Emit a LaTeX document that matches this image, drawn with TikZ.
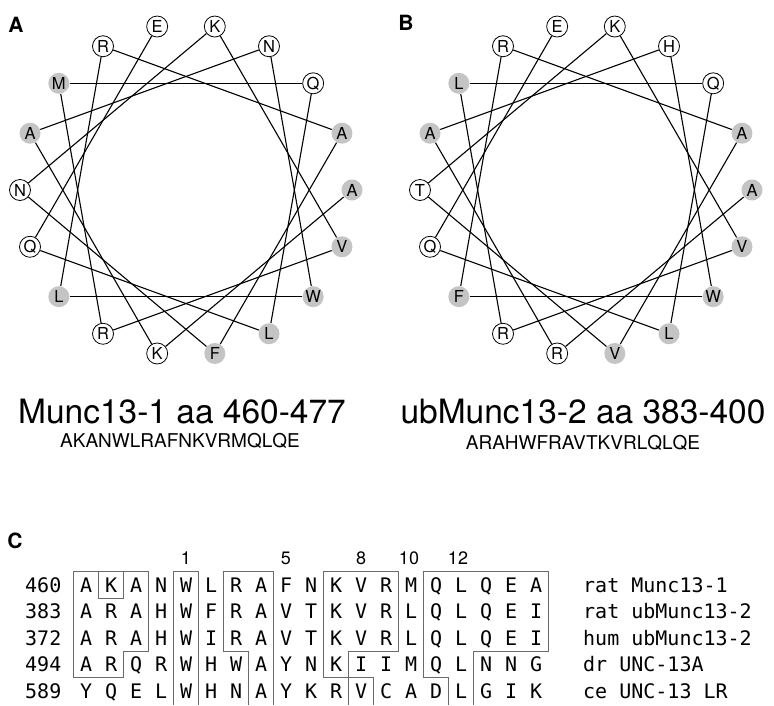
\documentclass[tikz,border=0pt]{standalone}
\usepackage{fontspec}
\setmainfont{TeX Gyre Heros}
\newfontfamily\alnfont{DejaVu Sans Mono}
\usepackage{xcolor}
\usepackage{tikz}
\definecolor{WheelGray}{HTML}{C4C4C4}
\definecolor{BoxLine}{HTML}{6A6A6A}
\newcommand{\rc}[1]{\makebox[25pt]{#1}}

\begin{document}
\begin{tikzpicture}[x=1pt,y=1pt,
  res/.style={circle,draw,line width=0.8pt,inner sep=0pt,minimum size=21pt,font=\fontsize{16.5}{16.5}\selectfont},
  hyd/.style={res,draw=none,fill=WheelGray},
  helix/.style={line width=1.1pt},
  panel/.style={inner sep=0pt,font=\bfseries\fontsize{21}{21}\selectfont},
  alnrow/.style={anchor=base west,inner sep=0pt,font=\alnfont\fontsize{20}{20}\selectfont},
  box/.style={BoxLine,line width=0.9pt}]
\path[use as bounding box,fill=white] (0,0) rectangle (774,-705);
% panel A
\node[panel] (pa) at (16,-24.5) {A};
\begin{scope}[shift={(186,-190)}]
\node[hyd] (a1) at (0:166) {A};
\node[res] (a2) at (260:166) {K};
\node[hyd] (a3) at (160:166) {A};
\node[res] (a4) at (60:166) {N};
\node[hyd] (a5) at (320:166) {W};
\node[hyd] (a6) at (220:166) {L};
\node[res] (a7) at (120:166) {R};
\node[hyd] (a8) at (20:166) {A};
\node[hyd] (a9) at (280:166) {F};
\node[res] (a10) at (180:166) {N};
\node[res] (a11) at (80:166) {K};
\node[hyd] (a12) at (340:166) {V};
\node[res] (a13) at (240:166) {R};
\node[hyd] (a14) at (140:166) {M};
\node[res] (a15) at (40:166) {Q};
\node[hyd] (a16) at (300:166) {L};
\node[res] (a17) at (200:166) {Q};
\node[res] (a18) at (100:166) {E};
\end{scope}
\draw[helix] (a1) -- (a2);
\draw[helix] (a2) -- (a3);
\draw[helix] (a3) -- (a4);
\draw[helix] (a4) -- (a5);
\draw[helix] (a5) -- (a6);
\draw[helix] (a6) -- (a7);
\draw[helix] (a7) -- (a8);
\draw[helix] (a8) -- (a9);
\draw[helix] (a9) -- (a10);
\draw[helix] (a10) -- (a11);
\draw[helix] (a11) -- (a12);
\draw[helix] (a12) -- (a13);
\draw[helix] (a13) -- (a14);
\draw[helix] (a14) -- (a15);
\draw[helix] (a15) -- (a16);
\draw[helix] (a16) -- (a17);
\draw[helix] (a17) -- (a18);
\node[anchor=base,inner sep=0pt,font=\fontsize{33.5}{36}\selectfont] (ta) at (182,-423) {Munc13-1 aa 460-477};
\node[anchor=base,inner sep=0pt,font=\fontsize{19}{19}\selectfont] (sa) at (180,-447) {AKANWLRAFNKVRMQLQE};
% panel B
\node[panel] (pb) at (406,-23) {B};
\begin{scope}[shift={(586,-190)}]
\node[hyd] (b1) at (0:166) {A};
\node[res] (b2) at (260:166) {R};
\node[hyd] (b3) at (160:166) {A};
\node[res] (b4) at (60:166) {H};
\node[hyd] (b5) at (320:166) {W};
\node[hyd] (b6) at (220:166) {F};
\node[res] (b7) at (120:166) {R};
\node[hyd] (b8) at (20:166) {A};
\node[hyd] (b9) at (280:166) {V};
\node[res] (b10) at (180:166) {T};
\node[res] (b11) at (80:166) {K};
\node[hyd] (b12) at (340:166) {V};
\node[res] (b13) at (240:166) {R};
\node[hyd] (b14) at (140:166) {L};
\node[res] (b15) at (40:166) {Q};
\node[hyd] (b16) at (300:166) {L};
\node[res] (b17) at (200:166) {Q};
\node[res] (b18) at (100:166) {E};
\end{scope}
\draw[helix] (b1) -- (b2);
\draw[helix] (b2) -- (b3);
\draw[helix] (b3) -- (b4);
\draw[helix] (b4) -- (b5);
\draw[helix] (b5) -- (b6);
\draw[helix] (b6) -- (b7);
\draw[helix] (b7) -- (b8);
\draw[helix] (b8) -- (b9);
\draw[helix] (b9) -- (b10);
\draw[helix] (b10) -- (b11);
\draw[helix] (b11) -- (b12);
\draw[helix] (b12) -- (b13);
\draw[helix] (b13) -- (b14);
\draw[helix] (b14) -- (b15);
\draw[helix] (b15) -- (b16);
\draw[helix] (b16) -- (b17);
\draw[helix] (b17) -- (b18);
\node[anchor=base,inner sep=0pt,font=\fontsize{33.5}{36}\selectfont] (tb) at (583,-423) {ubMunc13-2 aa 383-400};
\node[anchor=base,inner sep=0pt,font=\fontsize{19}{19}\selectfont] (sb) at (583,-449) {ARAHWFRAVTKVRLQLQE};
% panel C
\node[panel] (pc) at (15,-541) {C};
\node[anchor=base,inner sep=0pt,font=\fontsize{18}{18}\selectfont] (h1) at (186,-564) {1};
\node[anchor=base,inner sep=0pt,font=\fontsize{18}{18}\selectfont] (h5) at (286,-564) {5};
\node[anchor=base,inner sep=0pt,font=\fontsize{18}{18}\selectfont] (h8) at (361,-564) {8};
\node[anchor=base,inner sep=0pt,font=\fontsize{18}{18}\selectfont] (h10) at (409,-564) {10};
\node[anchor=base,inner sep=0pt,font=\fontsize{18}{18}\selectfont] (h12) at (458,-564) {12};
\node[alnrow] (num460) at (25,-592.3) {460};
\node[alnrow] (seq460) at (73.5,-592.3) {\rc A\rc K\rc A\rc N\rc W\rc L\rc R\rc A\rc F\rc N\rc K\rc V\rc R\rc M\rc Q\rc L\rc Q\rc E\rc A};
\node[alnrow] (sp460) at (583,-592.3) {rat Munc13-1};
\node[alnrow] (num383) at (25,-618.8) {383};
\node[alnrow] (seq383) at (73.5,-618.8) {\rc A\rc R\rc A\rc H\rc W\rc F\rc R\rc A\rc V\rc T\rc K\rc V\rc R\rc L\rc Q\rc L\rc Q\rc E\rc I};
\node[alnrow] (sp383) at (583,-618.8) {rat ubMunc13-2};
\node[alnrow] (num372) at (25,-645.3) {372};
\node[alnrow] (seq372) at (73.5,-645.3) {\rc A\rc R\rc A\rc H\rc W\rc I\rc R\rc A\rc V\rc T\rc K\rc V\rc R\rc L\rc Q\rc L\rc Q\rc E\rc I};
\node[alnrow] (sp372) at (583,-645.3) {hum ubMunc13-2};
\node[alnrow] (num494) at (25,-671.8) {494};
\node[alnrow] (seq494) at (73.5,-671.8) {\rc A\rc R\rc Q\rc R\rc W\rc H\rc W\rc A\rc Y\rc N\rc K\rc I\rc I\rc M\rc Q\rc L\rc N\rc N\rc G};
\node[alnrow] (sp494) at (583,-671.8) {dr UNC-13A};
\node[alnrow] (num589) at (25,-698.3) {589};
\node[alnrow] (seq589) at (73.5,-698.3) {\rc Y\rc Q\rc E\rc L\rc W\rc H\rc N\rc A\rc Y\rc K\rc R\rc V\rc C\rc A\rc D\rc L\rc G\rc I\rc K};
\node[alnrow] (sp589) at (583,-698.3) {ce UNC-13 LR};
% boxes
\draw[box] (73.5,-571.75) -- (148.5,-571.75) -- (148.5,-651.25) -- (123.5,-651.25) -- (123.5,-677.75) -- (73.5,-677.75) -- cycle;
\draw[box] (98.5,-571.75) rectangle (123.5,-598.25);
\draw[box] (173.5,-705) -- (173.5,-571.75) -- (198.5,-571.75) -- (198.5,-705);
\draw[box] (273.5,-705) -- (273.5,-571.75) -- (223.5,-571.75) -- (223.5,-651.25) -- (248.5,-651.25) -- (248.5,-705);
\draw[box] (323.5,-571.75) -- (398.5,-571.75) -- (398.5,-651.25) -- (348.5,-651.25) -- (348.5,-677.75) -- (323.5,-677.75) -- cycle;
\draw[box] (348.5,-705) -- (348.5,-677.75) -- (373.5,-677.75) -- (373.5,-705);
\draw[box] (448.5,-705) -- (448.5,-677.75) -- (423.5,-677.75) -- (423.5,-571.75) -- (548.5,-571.75) -- (548.5,-651.25) -- (473.5,-651.25) -- (473.5,-705);
\end{tikzpicture}
\end{document}
